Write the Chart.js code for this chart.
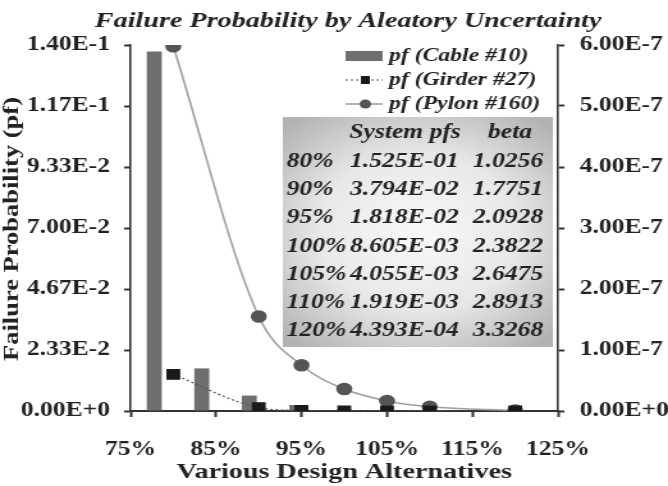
<!DOCTYPE html>
<html>
<head>
<meta charset="utf-8">
<script src="https://cdn.jsdelivr.net/npm/chart.js@4.4.1/dist/chart.umd.min.js"></script>
<style>
  body { margin: 0; background: #fff; overflow: hidden; }
  /* the source figure is stretched sideways, so draw narrow and widen */
  #wrap { width: 522px; height: 486px; position: relative; transform: scaleX(1.2797); transform-origin: 0 0; }
</style>
</head>
<body>
<div id="wrap"><canvas id="pfChart"></canvas></div>
<script>
// design alternatives (x, in %)
const alternatives = [80, 90, 95, 100, 105, 110, 120];
const girderPf = [0.0140, 0.0013, 0.0002, 0.00005, 0.00002, 0.00001, 0];
const pylonPf = [5.98e-7, 1.55e-7, 0.75e-7, 0.36e-7, 0.165e-7, 0.07e-7, 0.006e-7];

// cable bars sit on their own category axis
const cableLabels = ['80%', '85%', '90%', '95%', '100%', '105%', '110%', '115%', '120%'];
const cablePf = [0.1375, 0.0163, 0.0059, 0.0023, 0.0006, 0.0002, 0.0001, 0, 0];

// system table
const tableAlt = ['80%', '90%', '95%', '100%', '105%', '110%', '120%'];
const systemPfs = ['1.525E-01', '3.794E-02', '1.818E-02', '8.605E-03', '4.055E-03', '1.919E-03', '4.393E-04'];
const betas = ['1.0256', '1.7751', '2.0928', '2.3822', '2.6475', '2.8913', '3.3268'];

const chartTitle = 'Failure Probability by Aleatory Uncertainty';
const yTitle = 'Failure Probability (pf)';

const SERIF = "'Liberation Serif', 'Times New Roman', serif";
const INK = '#222';

function sci(v) {
    return v.toExponential(2).toUpperCase();
}

// title, y title, legend and table are drawn by hand
const overlayPlugin = {
    id: 'overlay',
    afterDraw(chart) {
        const ctx = chart.ctx;
        const ds = chart.data.datasets;
        ctx.save();

        ctx.fillStyle = INK;
        ctx.textBaseline = 'middle';
        ctx.textAlign = 'center';
        ctx.font = `italic bold 22px ${SERIF}`;
        ctx.fillText(chartTitle, 272, 21);

        ctx.save();
        ctx.translate(9.8, 229);
        ctx.rotate(-Math.PI / 2);
        ctx.scale(1, 0.66);
        ctx.font = `bold 26.5px ${SERIF}`;
        ctx.fillText(yTitle, 0, 0);
        ctx.restore();

        // legend
        const lx = 270, lw = 29, tx = 304;
        const rows = [56, 80, 104];
        ctx.font = `italic bold 18.5px ${SERIF}`;
        ctx.textAlign = 'left';
        ds.forEach((d, i) => {
            const y = rows[i];
            if (d.type === 'bar') {
                ctx.fillStyle = d.backgroundColor;
                ctx.fillRect(lx, y - 5, lw, 10);
            } else {
                ctx.strokeStyle = d.borderColor;
                ctx.lineWidth = d.borderWidth;
                ctx.setLineDash(d.borderDash || []);
                ctx.beginPath();
                ctx.moveTo(lx, y);
                ctx.lineTo(lx + lw, y);
                ctx.stroke();
                ctx.setLineDash([]);
                ctx.fillStyle = d.pointBackgroundColor;
                const cx = lx + lw / 2 + 1;
                if (d.pointStyle === 'rect') {
                    ctx.fillRect(cx - 3.5, y - 4, 7, 8);
                } else {
                    ctx.beginPath();
                    ctx.arc(cx, y, 4.5, 0, Math.PI * 2);
                    ctx.fill();
                }
            }
            ctx.fillStyle = INK;
            ctx.fillText(d.label, tx, y);
        });

        // table box
        const bx = 221, by = 117, bw = 211, bh = 230;
        const g = ctx.createRadialGradient(bx + bw / 2, by + bh / 2, 8, bx + bw / 2, by + bh / 2, bw * 0.7);
        g.addColorStop(0, '#f7f7f7');
        g.addColorStop(0.5, '#e8e8e8');
        g.addColorStop(1, '#b2b2b2');
        ctx.fillStyle = g;
        ctx.fillRect(bx, by, bw, bh);

        ctx.fillStyle = INK;
        ctx.font = `italic bold 20px ${SERIF}`;
        ctx.textAlign = 'center';
        ctx.fillText('System pfs', 316.5, 133);
        ctx.fillText('beta', 398.5, 133);
        ctx.textAlign = 'left';
        tableAlt.forEach((a, i) => {
            const y = 161.5 + i * 28.3;
            ctx.fillText(a, 224, y);
            ctx.fillText(systemPfs[i], 273.5, y);
            ctx.fillText(betas[i], 369.5, y);
        });
        ctx.restore();
    }
};

const tickFont = { family: SERIF, size: 20, weight: 'bold' };

new Chart(document.getElementById('pfChart'), {
    type: 'bar',
    data: {
        labels: cableLabels,
        datasets: [
            {
                type: 'bar',
                label: 'pf (Cable #10)',
                data: cablePf,
                xAxisID: 'xBar',
                yAxisID: 'y',
                backgroundColor: '#6f6f6f',
                grouped: false,
                maxBarThickness: 11.7,
                order: 3
            },
            {
                type: 'line',
                label: 'pf (Girder #27)',
                data: alternatives.map((x, i) => ({ x: x, y: girderPf[i] })),
                xAxisID: 'x',
                yAxisID: 'y',
                borderColor: '#555',
                borderWidth: 1.2,
                borderDash: [2, 2],
                cubicInterpolationMode: 'monotone',
                pointStyle: 'rect',
                pointRadius: 6.8,
                pointBackgroundColor: '#1a1a1a',
                pointBorderColor: '#1a1a1a',
                order: 1
            },
            {
                type: 'line',
                label: 'pf (Pylon #160)',
                data: alternatives.map((x, i) => ({ x: x, y: pylonPf[i] })),
                xAxisID: 'x',
                yAxisID: 'y2',
                borderColor: '#a0a0a0',
                borderWidth: 1.6,
                cubicInterpolationMode: 'monotone',
                pointStyle: 'circle',
                pointRadius: 5.5,
                pointBackgroundColor: '#555',
                pointBorderColor: '#555',
                order: 2
            }
        ]
    },
    options: {
        responsive: true,
        maintainAspectRatio: false,
        animation: false,
        layout: { padding: { top: 45 } },
        plugins: {
            legend: { display: false },
            tooltip: { enabled: false },
            title: { display: false }
        },
        scales: {
            x: {
                type: 'linear',
                position: 'bottom',
                min: 75,
                max: 125,
                offset: false,
                ticks: {
                    stepSize: 10,
                    color: INK,
                    font: tickFont,
                    padding: 21,
                    callback: v => v + '%'
                },
                grid: { offset: false, drawOnChartArea: false, tickLength: 6, tickColor: '#333', tickWidth: 2 },
                border: { color: '#333', width: 2 },
                title: {
                    display: true,
                    text: 'Various Design Alternatives',
                    color: INK,
                    font: { family: SERIF, size: 22, weight: 'bold' },
                    padding: 0
                },
                afterFit: s => { s.height = 75; }
            },
            xBar: {
                type: 'category',
                display: false,
                offset: true
            },
            y: {
                position: 'left',
                min: 0,
                max: 0.14,
                ticks: {
                    count: 7,
                    color: INK,
                    font: tickFont,
                    padding: 11,
                    callback: v => sci(v)
                },
                grid: { drawOnChartArea: false, tickLength: 5, tickColor: '#333', tickWidth: 2 },
                border: { color: '#333', width: 1.6 },
                afterFit: s => { s.width = 102; }
            },
            y2: {
                position: 'right',
                min: 0,
                max: 6e-7,
                ticks: {
                    count: 7,
                    color: INK,
                    font: tickFont,
                    padding: 12,
                    callback: v => sci(v)
                },
                grid: { drawOnChartArea: false, tickLength: 5, tickColor: '#333', tickWidth: 2 },
                border: { color: '#333', width: 1.6 },
                afterFit: s => { s.width = 86; }
            }
        }
    },
    plugins: [overlayPlugin]
});
</script>
</body>
</html>
